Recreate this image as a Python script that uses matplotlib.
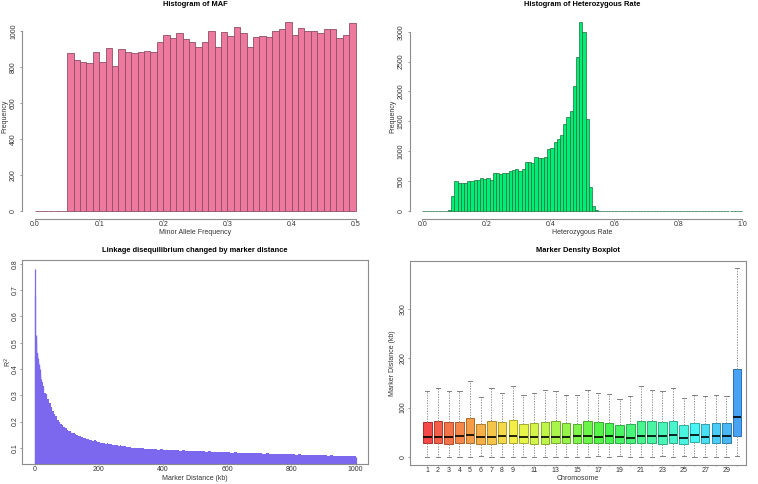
import numpy as np
import matplotlib
matplotlib.use("Agg")
import matplotlib.pyplot as plt
import colorsys

plt.rcParams['font.family'] = ['Liberation Sans', 'DejaVu Sans']

# ---------------- data ----------------
maf_edges = np.linspace(0.0, 0.5, 51)
maf_counts = [0, 0, 0, 0, 0,
              876, 841, 828, 822, 881, 828, 904, 804, 898, 881,
              876, 881, 891, 881, 937, 976, 959, 987, 954, 937,
              913, 937, 998, 913, 993, 970, 1020, 991, 913, 965,
              972, 969, 1002, 1013, 1048, 976, 1015, 1000, 1000, 989,
              1009, 1013, 959, 976, 1043]

het_edges = np.linspace(0.0, 1.0, 101)
het_counts = [0, 0, 0, 3, 5, 2, 4, 6, 15, 248,
              503, 470, 470, 475, 508, 497, 514, 514, 558, 532,
              546, 520, 639, 632, 617, 633, 644, 667, 690, 702,
              665, 710, 820, 815, 810, 905, 885, 890, 900, 1045,
              1050, 1155, 1210, 1265, 1450, 1580, 1670, 2095, 2570, 3160,
              2990, 1540, 400, 85, 15, 6, 3, 2, 1, 2,
              1, 1, 0, 1, 0, 1, 0, 0, 1, 0,
              0, 1, 0, 0, 0, 1, 0, 0, 0, 0,
              1, 0, 0, 0, 0, 0, 0, 0, 0, 0,
              0, 0, 0, 0, 0, 0, 0, 0, 0, 0]

ld_kb = [1, 2, 3, 4, 5, 6, 7, 8, 9, 10, 11, 12, 13, 14, 15, 16, 17, 18, 19, 20,
         25, 30, 35, 40, 45, 50, 55, 60, 65, 70, 75, 80, 85, 90, 95, 100,
         105, 110, 115, 120, 125, 130, 135, 140, 145, 150, 155, 160, 165, 170,
         175, 180, 185, 190, 195, 200, 205, 210, 215, 220, 225, 230, 235, 240,
         245, 250, 255, 260, 265, 270, 275, 280, 285, 290, 295, 300,
         310, 320, 330, 340, 350, 360, 370, 380, 390, 400,
         410, 420, 430, 440, 450, 460, 470, 480, 490, 500,
         510, 520, 530, 540, 550, 560, 570, 580, 590, 600,
         610, 620, 630, 640, 650, 660, 670, 680, 690, 700,
         710, 720, 730, 740, 750, 760, 770, 780, 790, 800,
         810, 820, 830, 840, 850, 860, 870, 880, 890, 900,
         910, 920, 930, 940, 950, 960, 970, 980, 990, 1000]
ld_r2 = [0.78, 0.68, 0.53, 0.52, 0.50, 0.47, 0.46, 0.45, 0.46, 0.44,
         0.43, 0.37, 0.42, 0.40, 0.41, 0.38, 0.40, 0.37, 0.36, 0.35,
         0.335, 0.31, 0.305, 0.285, 0.27, 0.255, 0.24, 0.228, 0.22, 0.205,
         0.20, 0.19, 0.188, 0.178, 0.176, 0.168,
         0.165, 0.162, 0.158, 0.155, 0.152, 0.150, 0.145, 0.146, 0.140, 0.138,
         0.136, 0.134, 0.132, 0.130, 0.129, 0.126, 0.128, 0.124, 0.122, 0.123,
         0.120, 0.119, 0.118, 0.116, 0.117, 0.114, 0.113, 0.112, 0.111, 0.110,
         0.109, 0.108, 0.109, 0.106, 0.105, 0.106, 0.104, 0.103, 0.104, 0.101,
         0.100, 0.099, 0.098, 0.097, 0.096, 0.096, 0.094, 0.093, 0.094, 0.092,
         0.091, 0.092, 0.090, 0.090, 0.089, 0.090, 0.088, 0.088, 0.087, 0.088,
         0.086, 0.087, 0.085, 0.086, 0.085, 0.084, 0.085, 0.083, 0.084, 0.083,
         0.082, 0.083, 0.081, 0.082, 0.080, 0.081, 0.080, 0.079, 0.081, 0.079,
         0.078, 0.079, 0.077, 0.078, 0.076, 0.077, 0.076, 0.075, 0.076, 0.075,
         0.074, 0.075, 0.073, 0.074, 0.073, 0.072, 0.073, 0.071, 0.072, 0.071,
         0.070, 0.071, 0.069, 0.070, 0.069, 0.068, 0.070, 0.067, 0.068, 0.066]

chrom = list(range(1, 31))
chrom_tick_labels = ["1", "2", "3", "4", "5", "6", "7", "8", "9", "",
                     "11", "", "13", "", "15", "", "17", "", "19", "",
                     "21", "", "23", "", "25", "", "27", "", "29", ""]
box_whislo = [0, 0, 0, 0, 0, 3, 0, 0, 0, 0, 0, 0, 0, 0, 0,
              0, 3, 0, 3, 0, 0, 0, 3, 0, 3, 0, 0, 0, 0, 2]
box_q1 = [28, 28, 26, 28, 29, 26, 27, 29, 28, 28, 27, 27, 28, 28, 28,
          28, 28, 28, 28, 28, 28, 28, 27, 28, 26, 31, 28, 28, 28, 43]
box_med = [41, 41, 41, 42, 45, 40, 41, 43, 43, 40, 41, 41, 41, 41, 43,
           42, 41, 43, 41, 39, 43, 43, 43, 44, 39, 44, 41, 43, 43, 82]
box_q3 = [70, 72, 70, 71, 80, 66, 72, 70, 76, 67, 69, 71, 72, 68, 67,
          72, 70, 69, 65, 67, 74, 72, 70, 74, 64, 69, 67, 68, 68, 179]
box_whishi = [133, 139, 134, 134, 155, 122, 139, 130, 143, 126, 130, 135, 134, 126, 126,
              136, 130, 128, 118, 124, 143, 135, 133, 139, 120, 126, 124, 126, 124, 383]

# ---------------- layout helpers ----------------
W, H = 758, 484
fig = plt.figure(figsize=(W / 100, H / 100), dpi=100)

AXC = '#8c8c8c'
TXC = '#333333'
FS = 5.0


def add_ax(rect):
    l, t, r, b = rect
    return fig.add_axes([l / W, 1 - b / H, (r - l) / W, (b - t) / H])


def decorate(ax, rect, title, xlabel, ylabel, title_y, xlabel_y, ylabel_x,
             xt=(1.0, 0.6), yt=(1.2, 1.0)):
    l, t, r, b = rect
    ax.set_title(title, fontsize=5.4, fontweight='bold', color='black',
                 y=1 + (t - title_y) / (b - t), va='center', pad=0)
    ax.set_xlabel(xlabel, fontsize=FS, color=TXC)
    ax.set_ylabel(ylabel, fontsize=FS, color=TXC)
    ax.xaxis.set_label_coords(0.5, (b - xlabel_y) / (b - t))
    ax.xaxis.label.set_va('center')
    ax.yaxis.set_label_coords((ylabel_x - l) / (r - l), 0.5)
    ax.yaxis.label.set_ha('center')
    ax.yaxis.label.set_va('center')
    ax.tick_params(width=0.6, labelsize=FS, color=AXC, labelcolor=TXC)
    ax.tick_params(axis='x', length=xt[0], pad=xt[1])
    ax.tick_params(axis='y', length=yt[0], pad=yt[1], labelrotation=90)
    for lab in ax.get_yticklabels():
        lab.set_va('center')
    for sp in ax.spines.values():
        sp.set_color(AXC)
        sp.set_linewidth(0.8)


# ---------------- MAF histogram ----------------
r1 = (22.2, 14.8, 368.5, 218.5)
ax1 = add_ax(r1)
ax1.bar(maf_edges[:-1], maf_counts, width=np.diff(maf_edges), align='edge',
        color='#EE799F', edgecolor='#8E4F66', linewidth=0.6)
ax1.set_xlim(-0.02, 0.52)
ax1.set_ylim(-41.9, 1089.9)
ax1.set_xticks([0.0, 0.1, 0.2, 0.3, 0.4, 0.5])
ax1.set_xticklabels(['0.0', '0.1', '0.2', '0.3', '0.4', '0.5'])
ax1.set_yticks([0, 200, 400, 600, 800, 1000])
ax1.spines['top'].set_visible(False)
ax1.spines['right'].set_visible(False)
ax1.spines['bottom'].set_bounds(0, 0.5)
ax1.spines['left'].set_bounds(0, 1000)
decorate(ax1, r1, 'Histogram of MAF', 'Minor Allele Frequency', 'Frequency',
         5, 232.7, 5, xt=(1.2, 0.6), yt=(1.5, 2.2))

# ---------------- Heterozygous rate histogram ----------------
r2 = (409.5, 14.6, 755.1, 218.6)
ax2 = add_ax(r2)
ax2.bar(het_edges[:-1], het_counts, width=np.diff(het_edges), align='edge',
        color='#00EE76', edgecolor='#1E6E3C', linewidth=0.5)
ax2.set_xlim(-0.04, 1.04)
ax2.set_ylim(-126.4, 3286.4)
ax2.set_xticks([0.0, 0.2, 0.4, 0.6, 0.8, 1.0])
ax2.set_xticklabels(['0.0', '0.2', '0.4', '0.6', '0.8', '1.0'])
ax2.set_yticks([0, 500, 1000, 1500, 2000, 2500, 3000])
ax2.spines['top'].set_visible(False)
ax2.spines['right'].set_visible(False)
ax2.spines['bottom'].set_bounds(0, 1.0)
ax2.spines['left'].set_bounds(0, 3000)
decorate(ax2, r2, 'Histogram of Heterozygous Rate', 'Heterozygous Rate', 'Frequency',
         5, 232.7, 393, xt=(1.2, 0.6), yt=(1.5, 2.2))

# ---------------- LD decay ----------------
r3 = (21.7, 260, 367.7, 463.8)
ax3 = add_ax(r3)
ax3.fill_between(ld_kb, 0, ld_r2, step='post', color='#7B68EE', linewidth=0)
ax3.vlines(ld_kb, 0, ld_r2, color='#7B68EE', linewidth=0.9)
ax3.set_xlim(-40, 1038)
ax3.set_ylim(0.039, 0.815)
ax3.set_xticks([0, 200, 400, 600, 800, 1000])
ax3.set_yticks([0.1, 0.2, 0.3, 0.4, 0.5, 0.6, 0.7, 0.8])
decorate(ax3, r3, 'Linkage disequilibrium changed by marker distance',
         'Marker Distance (kb)', r'R$^2$', 250.7, 478.3, 8)

# ---------------- Marker density boxplot ----------------
r4 = (409.7, 261, 745.7, 464.7)
ax4 = add_ax(r4)
stats = [dict(whislo=lo, q1=a, med=m, q3=c, whishi=hi, fliers=[])
         for lo, a, m, c, hi in zip(box_whislo, box_q1, box_med, box_q3, box_whishi)]
bp = ax4.bxp(stats, positions=chrom, widths=0.8, capwidths=0.4, patch_artist=True,
             showfliers=False,
             whiskerprops=dict(color='#9a9a9a', linestyle=(0, (1.5, 1.2)), linewidth=0.7),
             capprops=dict(color='#808080', linewidth=0.7),
             medianprops=dict(color='black', linewidth=1.2))
n = len(chrom)
for i, patch in enumerate(bp['boxes']):
    h = 0.58 * i / (n - 1)
    fc = colorsys.hsv_to_rgb(h, 0.70, 0.96)
    ec = colorsys.hsv_to_rgb(h, 0.75, 0.68)
    patch.set_facecolor(fc)
    patch.set_edgecolor(ec)
    patch.set_linewidth(0.7)
ax4.set_xlim(-0.65, 30.8)
ax4.set_ylim(-15.5, 397)
ax4.set_xticks(chrom)
ax4.set_xticklabels(chrom_tick_labels)
ax4.set_yticks([0, 100, 200, 300])
decorate(ax4, r4, 'Marker Density Boxplot', 'Chromosome', 'Marker Distance (kb)',
         250.7, 478.3, 393)

fig.savefig('out.png', dpi=100)
